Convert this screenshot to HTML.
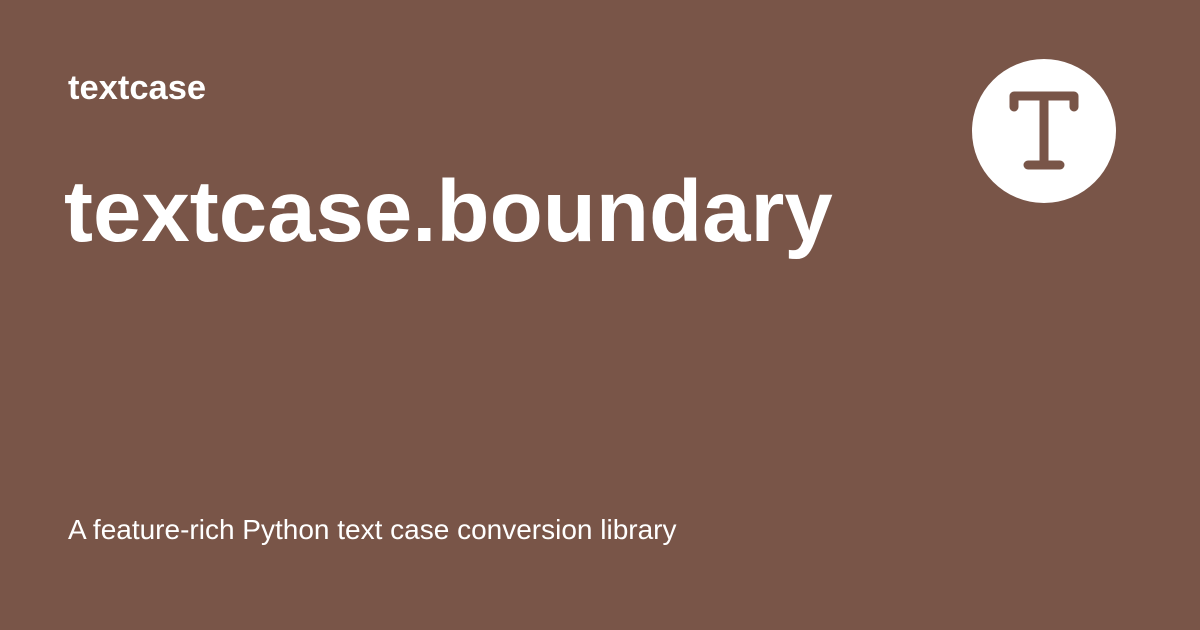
<!DOCTYPE html>
<html>
<head>
<meta charset="utf-8">
<style>
  html,body{margin:0;padding:0;}
  body{width:1200px;height:630px;background:#795548;position:relative;overflow:hidden;font-family:"Liberation Sans",sans-serif;color:#fff;}
  .site{position:absolute;left:68px;top:68px;font-size:34.5px;font-weight:bold;line-height:40px;}
  .title{position:absolute;left:64px;top:162px;font-size:87px;font-weight:bold;line-height:100px;white-space:nowrap;}
  .desc{position:absolute;left:68px;top:512px;font-size:28px;line-height:36px;white-space:nowrap;}
  .logo{position:absolute;left:972px;top:59px;width:144px;height:144px;}
</style>
</head>
<body>
  <div class="site">textcase</div>
  <div class="title">textcase.boundary</div>
  <div class="desc">A feature-rich Python text case conversion library</div>
  <svg class="logo" viewBox="0 0 144 144">
    <circle cx="72" cy="72" r="72" fill="#fff"/>
    <g fill="none" stroke="#795548" stroke-width="9" stroke-linecap="round" stroke-linejoin="round">
      <path d="M42 48 V37 H102 V48"/>
      <path d="M72 37 V106"/>
      <path d="M56 106 H88"/>
    </g>
  </svg>
</body>
</html>
